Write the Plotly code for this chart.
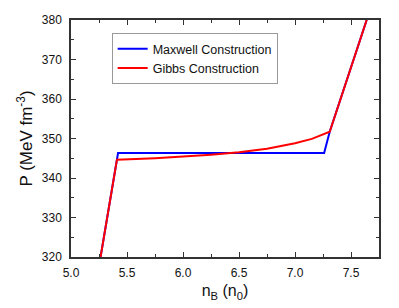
import plotly.graph_objects as go

# Maxwell construction
maxwell_nb = [5.264, 5.42, 7.26, 7.31, 7.64]
maxwell_p = [320.0, 346.3, 346.3, 351.7, 380.0]

# Gibbs construction
gibbs_nb = [5.264, 5.41, 5.75, 6.0, 6.25, 6.5, 6.75, 7.0, 7.15, 7.31, 7.64]
gibbs_p = [320.0, 344.6, 345.0, 345.4, 345.9, 346.5, 347.4, 348.8, 349.9, 351.7, 380.0]

x_ticks = [5.0, 5.5, 6.0, 6.5, 7.0, 7.5]
y_ticks = [320, 330, 340, 350, 360, 370, 380]

FONT = "Liberation Sans, Arial"

fig = go.Figure()
fig.add_trace(go.Scatter(x=maxwell_nb, y=maxwell_p, mode="lines",
                         name="Maxwell Construction",
                         line=dict(color="#0000FF", width=2)))
fig.add_trace(go.Scatter(x=gibbs_nb, y=gibbs_p, mode="lines",
                         name="Gibbs Construction",
                         line=dict(color="#FF0000", width=2)))

axis_common = dict(
    showline=True, linecolor="#333333", linewidth=1.5, mirror="ticks",
    ticks="inside", ticklen=5, tickwidth=1, tickcolor="#333333",
    showgrid=False, zeroline=False,
    tickfont=dict(family=FONT, size=12, color="#111111"),
)

fig.update_xaxes(range=[5.0, 7.75], tickvals=x_ticks,
                 ticktext=[f"{v:.1f}" for v in x_ticks],
                 minor=dict(dtick=0.25, ticks="inside", ticklen=3, tickcolor="#333333"),
                 ticklabelstandoff=4, automargin=False,
                 title=dict(text="n<sub>B</sub> (n<sub>0</sub>)",
                            font=dict(family=FONT, size=16, color="#111111"),
                            standoff=6),
                 **axis_common)
fig.update_yaxes(range=[320, 380], tickvals=y_ticks,
                 minor=dict(dtick=5, ticks="inside", ticklen=3, tickcolor="#333333"),
                 ticklabelstandoff=5, automargin="left",
                 title=dict(text="P (MeV fm<sup>-3</sup>)",
                            font=dict(family=FONT, size=17, color="#111111"),
                            standoff=5),
                 **axis_common)

# the page body has an 8px margin, so the figure is sized and padded to compensate
fig.update_layout(
    width=391, height=300,
    margin=dict(l=63, r=20, t=12, b=51),
    paper_bgcolor="white", plot_bgcolor="white",
    showlegend=True,
    legend=dict(x=0.132, y=0.945, xanchor="left", yanchor="top",
                bgcolor="white", bordercolor="#999999", borderwidth=1,
                font=dict(family=FONT, size=12.5, color="#111111"),
                tracegroupgap=0, itemwidth=30),
)

fig.write_html("out.html")
